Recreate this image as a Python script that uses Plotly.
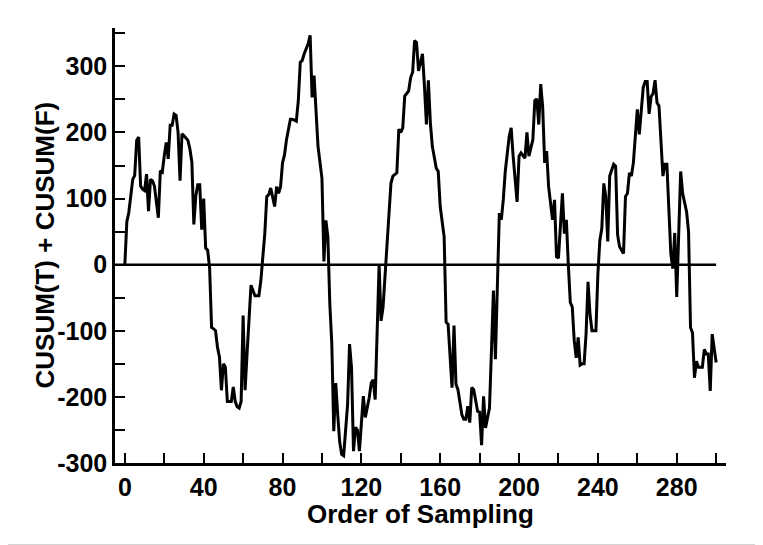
import plotly.graph_objects as go

# ---- data ----
sample_order = [
    0, 1, 2, 3, 4, 5, 6, 7, 8, 9, 10, 11, 12, 13, 14, 15, 16, 17, 18, 19,
    20, 21, 22, 23, 24, 25, 26, 27, 28, 29, 30, 31, 32, 33, 34, 35, 36, 37, 38, 39,
    40, 41, 42, 43, 44, 45, 46, 47, 48, 49, 50, 51, 52,
    54, 55, 56, 57, 58, 59, 60, 61, 62, 64, 66, 68, 69, 70, 71, 72, 73, 74, 76, 77,
    78, 79, 80, 81, 82, 84, 85, 87, 88, 89, 90, 91, 92, 93, 94, 95, 96, 97, 98, 100,
    101, 102, 103, 104,
    105, 106, 107, 108, 109, 110, 111, 113, 114, 115, 116, 117, 118, 119, 120, 121,
    122, 124, 125, 126, 127, 128, 129, 130, 131, 135, 136, 138, 139, 140, 141, 142,
    144, 145, 146, 147, 148, 149, 151, 152, 153, 154, 155, 156, 158, 159, 160, 162,
    163, 164, 166, 167, 168, 169, 171, 172, 173, 174, 175, 176, 177, 179, 180, 181,
    182, 183, 185, 186, 187, 188, 190, 191, 192, 193, 195, 196, 197, 199, 200, 201,
    202, 203, 204, 205, 207, 208, 209, 210, 211, 212, 213, 214,
    215, 217, 218, 219, 220, 222, 223, 224, 225, 226, 227, 228, 229, 230, 231, 232,
    233, 234, 235, 236, 237, 239, 240, 241, 242, 243, 244, 245, 246, 247, 248, 249,
    250, 251, 253, 254, 255, 256, 257, 258, 260, 261, 262, 263, 264, 265, 266, 267,
    268, 269, 270, 271, 273, 274, 275, 276, 277, 278, 279, 280, 282, 283, 285, 286,
    287, 288, 289, 290, 291, 293, 294, 295, 296, 297, 298, 300,
]
cusum_sum = [
    0, 65, 79, 109, 129, 135, 188, 193, 119, 114, 112, 137, 81, 129, 127, 119, 94, 71, 142, 140,
    165, 185, 160, 211, 211, 228, 226, 200, 127, 198, 195, 192, 188, 175, 155, 61, 104, 121, 121, 53,
    100, 25, 22, -5, -95, -97, -100, -125, -140, -190, -150, -155, -207,
    -207, -185, -207, -215, -217, -207, -77, -190, -135, -31, -47, -47, -24, 7, 47, 103, 106, 116, 88, 118,
    108, 118, 154, 166, 189, 220, 220, 217, 248, 306, 309, 319, 326, 334, 347, 253, 286, 230, 179, 131,
    5, 67, 42, -60,
    -120, -252, -179, -227, -268, -287, -289, -212, -120, -156, -282, -246, -250, -282, -237, -199,
    -231, -201, -179, -174, -204, -85, 0, -85, -64, 123, 134, 139, 205, 200, 207, 255,
    263, 283, 291, 339, 336, 293, 319, 270, 212, 279, 215, 179, 146, 141, 88, 42,
    -87, -90, -186, -92, -181, -189, -227, -234, -234, -214, -239, -186, -189, -222, -223, -273,
    -199, -247, -217, -130, -39, -143, 78, 68, 98, 141, 194, 207, 164, 95, 164, 169,
    164, 161, 200, 164, 189, 248, 251, 212, 273, 238, 154, 172,
    118, 68, 98, 12, 10, 108, 47, 68, 0, -57, -64, -115, -141, -110, -152, -150,
    -150, -105, -26, -75, -100, -100, -14, 37, 55, 123, 103, 35, 134, 144, 152, 149,
    45, 27, 17, 103, 108, 139, 134, 154, 235, 197, 233, 268, 277, 277, 228, 254,
    259, 279, 245, 240, 134, 152, 152, 95, 17, -6, 48, -49, 141, 108, 80, 50,
    -95, -103, -171, -146, -155, -155, -128, -135, -135, -191, -105, -148,
]

x_tick_vals = list(range(0, 301, 20))
x_tick_text = [str(v) if v % 40 == 0 else "" for v in x_tick_vals]
y_tick_vals = list(range(-300, 351, 50))
y_tick_text = [str(v) if v % 100 == 0 else "" for v in y_tick_vals]

X_TITLE = "Order of Sampling"
Y_TITLE = "CUSUM(T) + CUSUM(F)"

X_RANGE = [-5, 305]
Y_RANGE = [-300, 358]

# the page body adds an 8px offset, so the figure is 8px smaller than the window
W, H = 755, 537
ML, MT = 107, 20
PW, PH = 611, 435
MR, MB = W - ML - PW, H - MT - PH

FONT = "Liberation Sans, Arial, Helvetica, sans-serif"
TICK_FONT = dict(family=FONT, size=25, color="black", weight="bold")
TITLE_FONT = dict(family=FONT, size=26, color="black", weight="bold")

fig = go.Figure()
fig.add_trace(go.Scatter(
    x=sample_order, y=cusum_sum, mode="lines",
    line=dict(color="black", width=3),
    showlegend=False, hoverinfo="x+y",
))

# zero reference line
fig.add_shape(type="line", xref="x", yref="y",
              x0=X_RANGE[0], x1=max(sample_order), y0=0, y1=0,
              line=dict(color="black", width=2.5))

# light grey bottom edge of the picture
fig.add_shape(type="line", xref="paper", yref="paper",
              x0=-ML / PW, x1=1 + MR / PW, y0=-(MB - 0.5) / PH, y1=-(MB - 0.5) / PH,
              line=dict(color="#d4d4d4", width=1))

axis_common = dict(
    showline=True, linecolor="black", linewidth=2.5,
    ticks="inside", ticklen=10, tickwidth=2, tickcolor="black",
    showgrid=False, zeroline=False, tickmode="array",
    tickfont=TICK_FONT,
)

fig.update_xaxes(range=X_RANGE, tickvals=x_tick_vals, ticktext=x_tick_text, **axis_common)
fig.update_yaxes(range=Y_RANGE, tickvals=y_tick_vals, ticktext=y_tick_text, **axis_common)

fig.add_annotation(text=X_TITLE, xref="paper", yref="paper",
                   x=0.5, y=-51 / PH, xanchor="center", yanchor="middle",
                   showarrow=False, font=TITLE_FONT)
fig.add_annotation(text=Y_TITLE, xref="paper", yref="paper",
                   x=-71 / PW, y=0.5, xanchor="center", yanchor="middle",
                   textangle=-90, showarrow=False, font=TITLE_FONT)

fig.update_layout(
    width=W, height=H,
    margin=dict(l=ML, r=MR, t=MT, b=MB, autoexpand=False),
    paper_bgcolor="white", plot_bgcolor="white",
    font=dict(family=FONT, color="black"),
)

fig.write_html("out.html")
